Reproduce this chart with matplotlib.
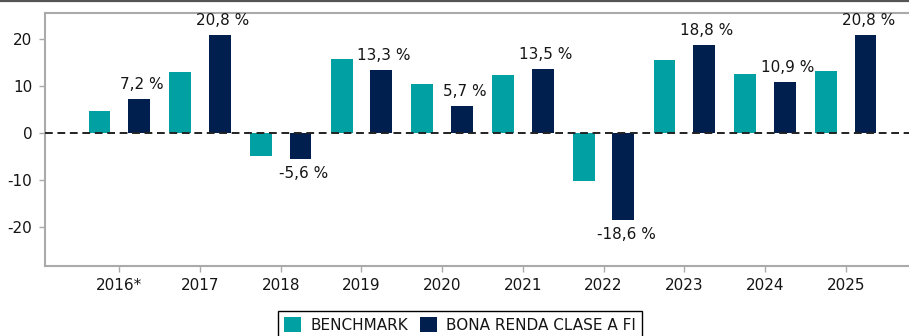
#!/usr/bin/env python3
# Annual returns: benchmark vs. Bona Renda Clase A FI, grouped bars with fund labels

import matplotlib
matplotlib.use("Agg")
import matplotlib.pyplot as plt
import numpy as np
from matplotlib.lines import Line2D

years = ["2016*", "2017", "2018", "2019", "2020", "2021", "2022", "2023", "2024", "2025"]
benchmark = [4.7, 12.9, -5.0, 15.7, 10.3, 12.4, -10.3, 15.5, 12.5, 13.2]
fund = [7.2, 20.8, -5.6, 13.3, 5.7, 13.5, -18.6, 18.8, 10.9, 20.8]

TEAL = "#00A0A3"
NAVY = "#001E4E"
SPINE = "#aaaaaa"
INK = "#151515"

plt.rcParams["axes.unicode_minus"] = False

W, H = 909, 336
fig = plt.figure(figsize=(W / 100, H / 100), dpi=100)
# axes runs a little past the right edge of the canvas
ax = fig.add_axes([45 / W, 1 - 266 / H, 875 / W, 253 / H])

x = np.arange(len(years))
bw = 0.27
off = 0.245
ax.bar(x - off, benchmark, bw, color=TEAL, label="BENCHMARK", zorder=2)
ax.bar(x + off, fund, bw, color=NAVY, label="BONA RENDA CLASE A FI", zorder=2)

for xi, v in zip(x, fund):
    txt = f"{v:.1f} %".replace(".", ",")
    ax.annotate(txt, (xi + off, v), xytext=(2, 5 if v >= 0 else -5),
                textcoords="offset points", ha="center",
                va="bottom" if v >= 0 else "top", fontsize=11, color=INK)

ax.axhline(0, color="#222222", linestyle=(0, (4, 2.4)), linewidth=1.4, zorder=3)

ax.set_xlim(-0.92, 9.92)
ax.set_ylim(-28.3, 25.5)
ax.set_yticks([-20, -10, 0, 10, 20])
ax.set_xticks(x)
ax.set_xticklabels(years)
ax.tick_params(axis="both", colors=SPINE, labelcolor=INK, labelsize=11,
               length=4, width=1)
ax.tick_params(axis="x", pad=5)
ax.tick_params(axis="y", pad=5)

for side in ("left", "bottom", "top"):
    ax.spines[side].set_color(SPINE)
    ax.spines[side].set_linewidth(1.5)
ax.spines["right"].set_visible(False)

leg = fig.legend(loc="upper center", bbox_to_anchor=(460 / W, 1 - 311 / H), ncol=2,
                 fontsize=11, frameon=True, fancybox=False, edgecolor="black",
                 handlelength=1.1, handleheight=1.1, handletextpad=0.6,
                 columnspacing=0.8, borderpad=0.4, borderaxespad=0, framealpha=1)
for t in leg.get_texts():
    t.set_color(INK)

# thin rule along the top of the canvas
fig.add_artist(Line2D([0, 1], [1 - 1 / H, 1 - 1 / H], transform=fig.transFigure,
                      color="#555555", linewidth=1.6))

fig.savefig("out.png", dpi=100)
plt.close(fig)
